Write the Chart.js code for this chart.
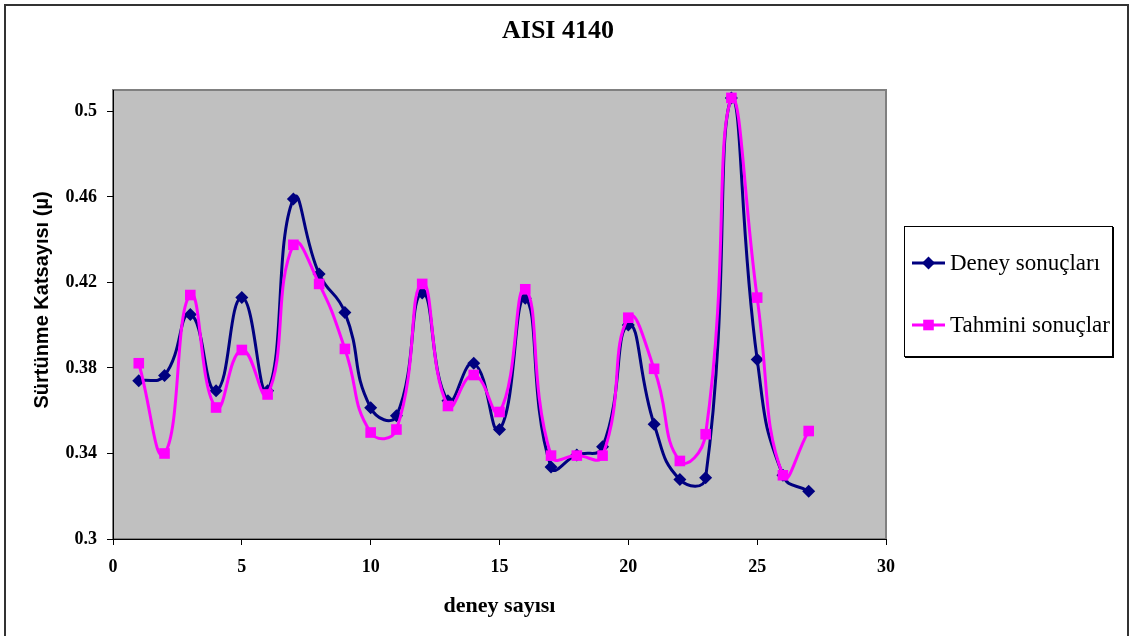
<!DOCTYPE html>
<html>
<head>
<meta charset="utf-8">
<script src="https://cdn.jsdelivr.net/npm/chart.js@4"></script>
<style>
html,body{margin:0;padding:0;background:#fff;}
#wrap{width:1131px;height:636px;position:relative;}
canvas{display:block;}
</style>
</head>
<body>
<div id="wrap"><canvas id="c" width="1131" height="636" style="width:1131px;height:636px"></canvas></div>
<script>
// ---- data ----
const runs = [1,2,3,4,5,6,7,8,9,10,11,12,13,14,15,16,17,18,19,20,21,22,23,24,25,26,27];
const deneySonuclari = [0.374,0.3765,0.405,0.3693,0.4129,0.3693,0.459,0.424,0.4059,0.3614,0.3576,0.415,0.3647,0.3822,0.3512,0.4126,0.3337,0.3393,0.3431,0.4001,0.3537,0.3278,0.3286,0.5063,0.384,0.3298,0.3223];
const tahminiSonuclar = [0.3822,0.340,0.4141,0.3615,0.3884,0.3676,0.4376,0.4193,0.3889,0.3498,0.3512,0.4193,0.3622,0.3767,0.3594,0.4168,0.339,0.339,0.339,0.4035,0.3796,0.3365,0.349,0.5063,0.4129,0.3298,0.3505];
const xTicks = [0,5,10,15,20,25,30];
const yTicks = [0.3,0.34,0.38,0.42,0.46,0.5];
const seriesNames = ['Deney sonuçları','Tahmini sonuçlar'];
const chartTitle = 'AISI 4140';
const xTitle = 'deney sayısı';
const yTitle = 'Sürtünme Katsayısı (µ)';

const NAVY = '#000080', MAGENTA = '#FF00FF';

const decor = {
  id: 'decor',
  beforeDraw(chart) {
    const ctx = chart.ctx, a = chart.chartArea;
    ctx.save();
    ctx.fillStyle = '#fff';
    ctx.fillRect(0, 0, chart.width, chart.height);
    // outer border
    ctx.strokeStyle = '#333';
    ctx.lineWidth = 2;
    ctx.strokeRect(5, 5, 1123, 640);
    // plot area
    ctx.fillStyle = '#C0C0C0';
    ctx.fillRect(a.left, a.top, a.right - a.left, a.bottom - a.top);
    ctx.strokeStyle = '#808080';
    ctx.lineWidth = 2;
    ctx.strokeRect(a.left, a.top, a.right - a.left, a.bottom - a.top);
    // title
    ctx.fillStyle = '#000';
    ctx.font = 'bold 26px "Liberation Serif", "Times New Roman", serif';
    ctx.textAlign = 'center';
    ctx.textBaseline = 'middle';
    ctx.fillText(chartTitle, 558, 31);
    // y axis title
    ctx.save();
    ctx.translate(42, 300);
    ctx.rotate(-Math.PI / 2);
    ctx.font = 'bold 20px "Liberation Sans", Arial, sans-serif';
    ctx.fillText(yTitle, 0, 0);
    ctx.restore();
    ctx.restore();
  },
  afterDraw(chart) {
    const ctx = chart.ctx;
    ctx.save();
    // legend box
    ctx.fillStyle = '#fff';
    ctx.fillRect(904, 226, 209, 131);
    ctx.strokeStyle = '#000';
    ctx.lineWidth = 1;
    ctx.strokeRect(904.5, 226.5, 208, 130);
    ctx.fillStyle = '#000';
    ctx.fillRect(1112, 227, 2, 131);
    ctx.fillRect(905, 356, 209, 2);
    const items = [
      {y: 263, color: NAVY, style: 'rectRot', r: 6.5},
      {y: 325, color: MAGENTA, style: 'rect', r: 7.5}
    ];
    items.forEach((it, i) => {
      ctx.strokeStyle = it.color;
      ctx.lineWidth = 3;
      ctx.beginPath();
      ctx.moveTo(912, it.y);
      ctx.lineTo(945, it.y);
      ctx.stroke();
      ctx.fillStyle = it.color;
      Chart.helpers.drawPoint(ctx, {pointStyle: it.style, radius: it.r, borderWidth: 0, rotation: 0}, 928.5, it.y);
      ctx.fillStyle = '#000';
      ctx.font = '23px "Liberation Serif", "Times New Roman", serif';
      ctx.textAlign = 'left';
      ctx.textBaseline = 'middle';
      ctx.fillText(seriesNames[i], 950, it.y + 1);
    });
    ctx.restore();
  }
};

const tickFont = {family: '"Liberation Serif", "Times New Roman", serif', size: 18, weight: 'bold'};

new Chart(document.getElementById('c'), {
  type: 'line',
  data: {
    datasets: [
      {
        label: seriesNames[0],
        data: runs.map((r, i) => ({x: r, y: deneySonuclari[i]})),
        borderColor: NAVY, backgroundColor: NAVY,
        borderWidth: 3, pointStyle: 'rectRot', pointRadius: 6.5, pointBorderWidth: 0,
        pointBackgroundColor: NAVY, tension: 0.5, order: 1
      },
      {
        label: seriesNames[1],
        data: runs.map((r, i) => ({x: r, y: tahminiSonuclar[i]})),
        borderColor: MAGENTA, backgroundColor: MAGENTA,
        borderWidth: 3, pointStyle: 'rect', pointRadius: 7.5, pointBorderWidth: 0,
        pointBackgroundColor: MAGENTA, tension: 0.5, order: 0
      }
    ]
  },
  options: {
    responsive: false,
    animation: false,
    devicePixelRatio: 1,
    layout: {padding: {left: 0, top: 90, right: 245, bottom: 0}},
    plugins: {legend: {display: false}, title: {display: false}, tooltip: {enabled: false}},
    scales: {
      x: {
        type: 'linear', min: 0, max: 30,
        afterBuildTicks: s => { s.ticks = xTicks.map(v => ({value: v})); },
        afterFit: s => { s.height = 97; },
        grid: {drawOnChartArea: false, drawTicks: true, tickLength: 6, color: '#000'},
        border: {display: true, color: '#000', width: 1},
        ticks: {font: tickFont, color: '#000', padding: 12, maxRotation: 0, autoSkip: false,
                callback: v => String(v)},
        title: {display: true, text: xTitle, color: '#000',
                font: {family: '"Liberation Serif", "Times New Roman", serif', size: 22, weight: 'bold'},
                padding: {top: 0, bottom: 16}}
      },
      y: {
        type: 'linear', min: 0.3, max: 0.51,
        afterBuildTicks: s => { s.ticks = yTicks.map(v => ({value: v})); },
        afterFit: s => { s.width = 113; },
        grid: {drawOnChartArea: false, drawTicks: true, tickLength: 6, color: '#000'},
        border: {display: true, color: '#000', width: 1},
        ticks: {font: tickFont, color: '#000', padding: 10, autoSkip: false,
                callback: v => String(v)},
        title: {display: false}
      }
    }
  },
  plugins: [decor]
});
</script>
</body>
</html>
